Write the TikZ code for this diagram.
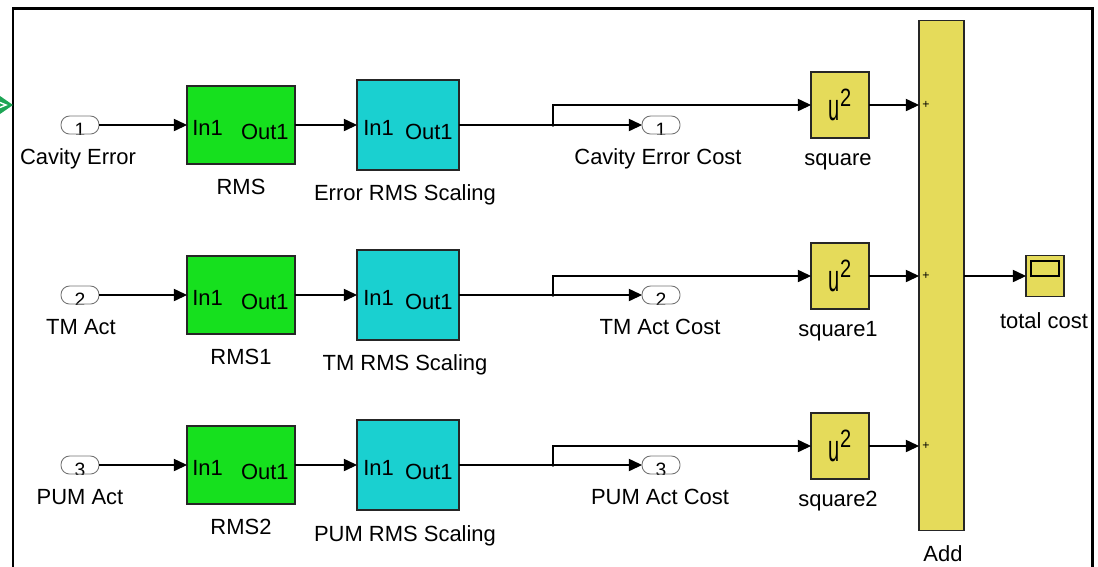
\documentclass[tikz,border=0pt]{standalone}
\usepackage{fontspec}
\usepackage{graphicx}
\setmainfont{Liberation Sans}
\usetikzlibrary{arrows.meta}
\definecolor{blkgreen}{RGB}{22,224,30}
\definecolor{blkcyan}{RGB}{26,208,208}
\definecolor{blkyellow}{RGB}{229,219,90}
\definecolor{arrgreen}{RGB}{30,165,85}
\begin{document}
\begin{tikzpicture}[x=0.02cm,y=-0.02cm,
  every node/.style={font=\fontsize{12.5}{14}\selectfont},
  blk/.style={draw=black!85, line width=0.6pt, inner sep=0pt, outer sep=0pt},
  rmsblk/.style={blk, fill=blkgreen, minimum width=2.16cm, minimum height=1.56cm},
  scblk/.style={blk, fill=blkcyan, minimum width=2.04cm, minimum height=1.8cm},
  sqblk/.style={blk, fill=blkyellow, minimum width=1.16cm, minimum height=1.32cm},
  port/.style={draw=black!55, fill=white, line width=0.5pt, rounded corners=0.17cm,
    minimum width=0.76cm, minimum height=0.36cm, inner sep=0pt, outer sep=0pt,
    path picture={\node[inner sep=0pt, yshift=-0.1cm, font=\fontsize{11}{12}\selectfont]
      at (path picture bounding box.center) {#1};}},
  lab/.style={anchor=base, inner sep=0pt},
  pin/.style={anchor=west, inner sep=0pt},
  pout/.style={anchor=east, inner sep=0pt},
  plus/.style={inner sep=0pt, font=\fontsize{7}{8}\selectfont},
  conn/.style={line width=0.6pt},
  arr/.style={conn, -{Triangle[length=7.5pt,width=7pt]}},
  sqtext/.style={font=\fontsize{11.4}{12}\selectfont},
]
\useasboundingbox (0,0) rectangle (1098,566);
% frame
\draw[line width=1.7pt] (13,620) -- (13,8) -- (1092,8) -- (1092,620);
\fill[arrgreen] (0,96) -- (13,105) -- (0,114) -- cycle;
\draw[white, line width=0.8pt] (0,102.5) -- (6,105) -- (0,107.5);

% ---------- row 1 ----------
\node[port=1] (in1) at (80,125) {};
\node[lab] (in1l) at (78,164) {Cavity Error};
\node[rmsblk] (rms1) at (241,125) {};
\node[lab] (rms1l) at (241,194) {RMS};
\node[pin] (rms1i) at ([xshift=0.1cm,yshift=-0.06cm]rms1.west) {In1};
\node[pout] (rms1o) at ([xshift=-0.12cm,yshift=-0.14cm]rms1.east) {Out1};
\node[scblk] (sc1) at (408,125) {};
\node[lab] (sc1l) at (405,200) {Error RMS Scaling};
\node[pin] (sc1i) at ([xshift=0.12cm,yshift=-0.06cm]sc1.west) {In1};
\node[pout] (sc1o) at ([xshift=-0.12cm,yshift=-0.14cm]sc1.east) {Out1};
\coordinate (b1) at (553,125);
\node[port=1] (out1) at (661,125) {};
\node[lab] (out1l) at (658,164) {Cavity Error Cost};
\node[sqblk, sqtext] (sq1) at (840,105) {\scalebox{1}[1.9]{u}\raisebox{0.28cm}{\scalebox{1}[1.25]{2}}};
\node[lab] (sq1l) at (838,165) {square};

% ---------- row 2 ----------
\node[port=2] (in2) at (80,295) {};
\node[lab] (in2l) at (81,334) {TM Act};
\node[rmsblk] (rms2) at (241,295) {};
\node[lab] (rms2l) at (241,364) {RMS1};
\node[pin] (rms2i) at ([xshift=0.1cm,yshift=-0.06cm]rms2.west) {In1};
\node[pout] (rms2o) at ([xshift=-0.12cm,yshift=-0.14cm]rms2.east) {Out1};
\node[scblk] (sc2) at (408,295) {};
\node[lab] (sc2l) at (405,370) {TM RMS Scaling};
\node[pin] (sc2i) at ([xshift=0.12cm,yshift=-0.06cm]sc2.west) {In1};
\node[pout] (sc2o) at ([xshift=-0.12cm,yshift=-0.14cm]sc2.east) {Out1};
\coordinate (b2) at (553,295);
\node[port=2] (out2) at (661,295) {};
\node[lab] (out2l) at (660,334) {TM Act Cost};
\node[sqblk, sqtext] (sq2) at (840,276) {\scalebox{1}[1.9]{u}\raisebox{0.28cm}{\scalebox{1}[1.25]{2}}};
\node[lab] (sq2l) at (838,336) {square1};

% ---------- row 3 ----------
\node[port=3] (in3) at (80,465) {};
\node[lab] (in3l) at (80,504) {PUM Act};
\node[rmsblk] (rms3) at (241,465) {};
\node[lab] (rms3l) at (241,534) {RMS2};
\node[pin] (rms3i) at ([xshift=0.1cm,yshift=-0.06cm]rms3.west) {In1};
\node[pout] (rms3o) at ([xshift=-0.12cm,yshift=-0.14cm]rms3.east) {Out1};
\node[scblk] (sc3) at (408,465) {};
\node[lab] (sc3l) at (405,541) {PUM RMS Scaling};
\node[pin] (sc3i) at ([xshift=0.12cm,yshift=-0.06cm]sc3.west) {In1};
\node[pout] (sc3o) at ([xshift=-0.12cm,yshift=-0.14cm]sc3.east) {Out1};
\coordinate (b3) at (553,465);
\node[port=3] (out3) at (661,465) {};
\node[lab] (out3l) at (660,504) {PUM Act Cost};
\node[sqblk, sqtext] (sq3) at (840,446) {\scalebox{1}[1.9]{u}\raisebox{0.28cm}{\scalebox{1}[1.25]{2}}};
\node[lab] (sq3l) at (838,506) {square2};

% ---------- Add and scope ----------
\node[blk, fill=blkyellow, minimum width=0.9cm, minimum height=10.22cm] (add) at (941.5,275.5) {};
\node[lab] (addl) at (943,561) {Add};
\node[plus] (p1) at (926,105) {+};
\node[plus] (p2) at (926,276) {+};
\node[plus] (p3) at (926,446) {+};
\node[blk, fill=blkyellow, minimum width=0.76cm, minimum height=0.82cm] (scope) at (1045,276) {};
\node[blk, draw=black, fill=blkyellow, minimum width=0.56cm, minimum height=0.3cm] (scopein) at (1045,268.5) {};
\node[lab] (scopel) at (1044,328) {total cost};

% ---------- connectors ----------
\foreach \i in {1,2,3}{
  \draw[arr] (in\i.east) -- (rms\i.west);
  \draw[arr] (rms\i.east) -- (sc\i.west);
  \draw[conn] (sc\i.east) -- (b\i);
  \fill (b\i) circle[radius=1pt];
  \draw[arr] (b\i) -- (out\i.west);
  \draw[arr] (b\i) |- (sq\i.west);
  \draw[arr] (sq\i.east) -- (sq\i.east -| add.west);
}
\draw[arr] (scope.west -| add.east) -- (scope.west);
\end{tikzpicture}
\end{document}
